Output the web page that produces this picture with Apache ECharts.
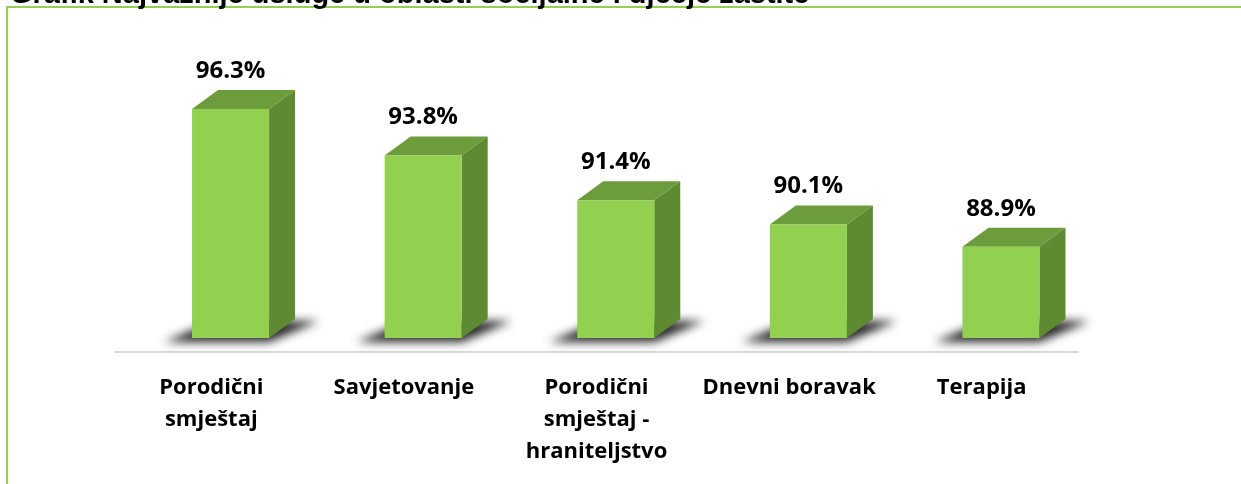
<!DOCTYPE html>
<html>
<head>
<meta charset="utf-8">
<script src="https://cdn.jsdelivr.net/npm/echarts@6/dist/echarts.min.js"></script>
<style>
  html, body { margin: 0; padding: 0; background: #fff; }
  #main { width: 1241px; height: 484px; }
</style>
</head>
<body>
<div id="main"></div>
<script>
// categories and values
const categories = ['Porodični\nsmještaj', 'Savjetovanje', 'Porodični\nsmještaj -\nhraniteljstvo', 'Dnevni boravak', 'Terapija'];
const values = [96.3, 93.8, 91.4, 90.1, 88.9];
const yMin = 84;
const yMax = 100;

const chart = echarts.init(document.getElementById('main'));

// shadow shape is drawn off screen, only its blurred shadow lands under the bar
const SHIFT = 3000;

// 3d box: front face, side, top and a soft floor shadow
const renderBar = (params, api) => {
  const idx = api.value(0);
  const top = api.coord([idx, api.value(1)]);
  const base = api.coord([idx, yMin]);
  const bw = api.size([1, 0])[0];
  const x0 = top[0] - bw * 0.1;
  const w = bw * 0.4;
  const x1 = x0 + w;
  const dx = bw * 0.135;
  const dy = 19;
  const yt = top[1];
  const yb = base[1];
  return {
    type: 'group',
    children: [
      {
        type: 'polygon',
        shape: { points: [[x0 - 28 - SHIFT, yb + 4], [x1 - SHIFT, yb + 4], [x1 + dx + 24 - SHIFT, yb - dy + 2], [x0 + dx - 4 - SHIFT, yb - dy + 2]] },
        style: { fill: '#000', shadowBlur: 10, shadowColor: 'rgba(0,0,0,0.85)', shadowOffsetX: SHIFT, shadowOffsetY: 0 },
        z2: 1
      },
      {
        type: 'polygon',
        shape: { points: [[x1, yt], [x1 + dx, yt - dy], [x1 + dx, yb - dy], [x1, yb]] },
        style: { fill: '#5e8a31' },
        z2: 2
      },
      {
        type: 'polygon',
        shape: { points: [[x0, yt], [x0 + dx, yt - dy], [x1 + dx, yt - dy], [x1, yt]] },
        style: { fill: '#6d9c3c' },
        z2: 2
      },
      {
        type: 'rect',
        shape: { x: x0, y: yt, width: w, height: yb - yt },
        style: { fill: '#92d050' },
        z2: 3
      },
      {
        type: 'text',
        x: x0 + w / 2,
        y: yt - dy - 7,
        style: {
          text: values[idx].toFixed(1) + '%',
          align: 'center',
          verticalAlign: 'bottom',
          fill: '#000',
          font: 'bold 24px "Open Sans"'
        },
        z2: 4
      }
    ]
  };
};

const option = {
  animation: false,
  backgroundColor: '#fff',
  title: {
    text: 'Grafik Najvažnije usluge u oblasti socijalne i dječje zaštite',
    left: 5,
    top: -25,
    textStyle: {
      fontFamily: 'Liberation Sans',
      fontWeight: 'bold',
      fontSize: 29,
      color: '#000'
    }
  },
  graphic: [
    {
      type: 'polyline',
      shape: { points: [[7, 484], [7, 7], [1241, 7]] },
      style: { stroke: '#92d050', lineWidth: 2, fill: null },
      z: -1
    }
  ],
  grid: {
    left: 115,
    right: 163,
    top: 40,
    bottom: 146
  },
  xAxis: {
    type: 'category',
    data: categories,
    offset: 14,
    axisLine: { show: true, lineStyle: { color: '#d9d9d9', width: 2 } },
    axisTick: { show: false },
    axisLabel: {
      interval: 0,
      margin: 20,
      color: '#000',
      fontFamily: 'Open Sans',
      fontWeight: 'bold',
      fontSize: 22,
      lineHeight: 32
    }
  },
  yAxis: {
    type: 'value',
    min: yMin,
    max: yMax,
    show: false,
    splitLine: { show: false }
  },
  series: [
    {
      type: 'custom',
      renderItem: renderBar,
      data: values.map((v, i) => [i, v]),
      encode: { x: 0, y: 1 },
      clip: false
    }
  ]
};

chart.setOption(option);
</script>
</body>
</html>
